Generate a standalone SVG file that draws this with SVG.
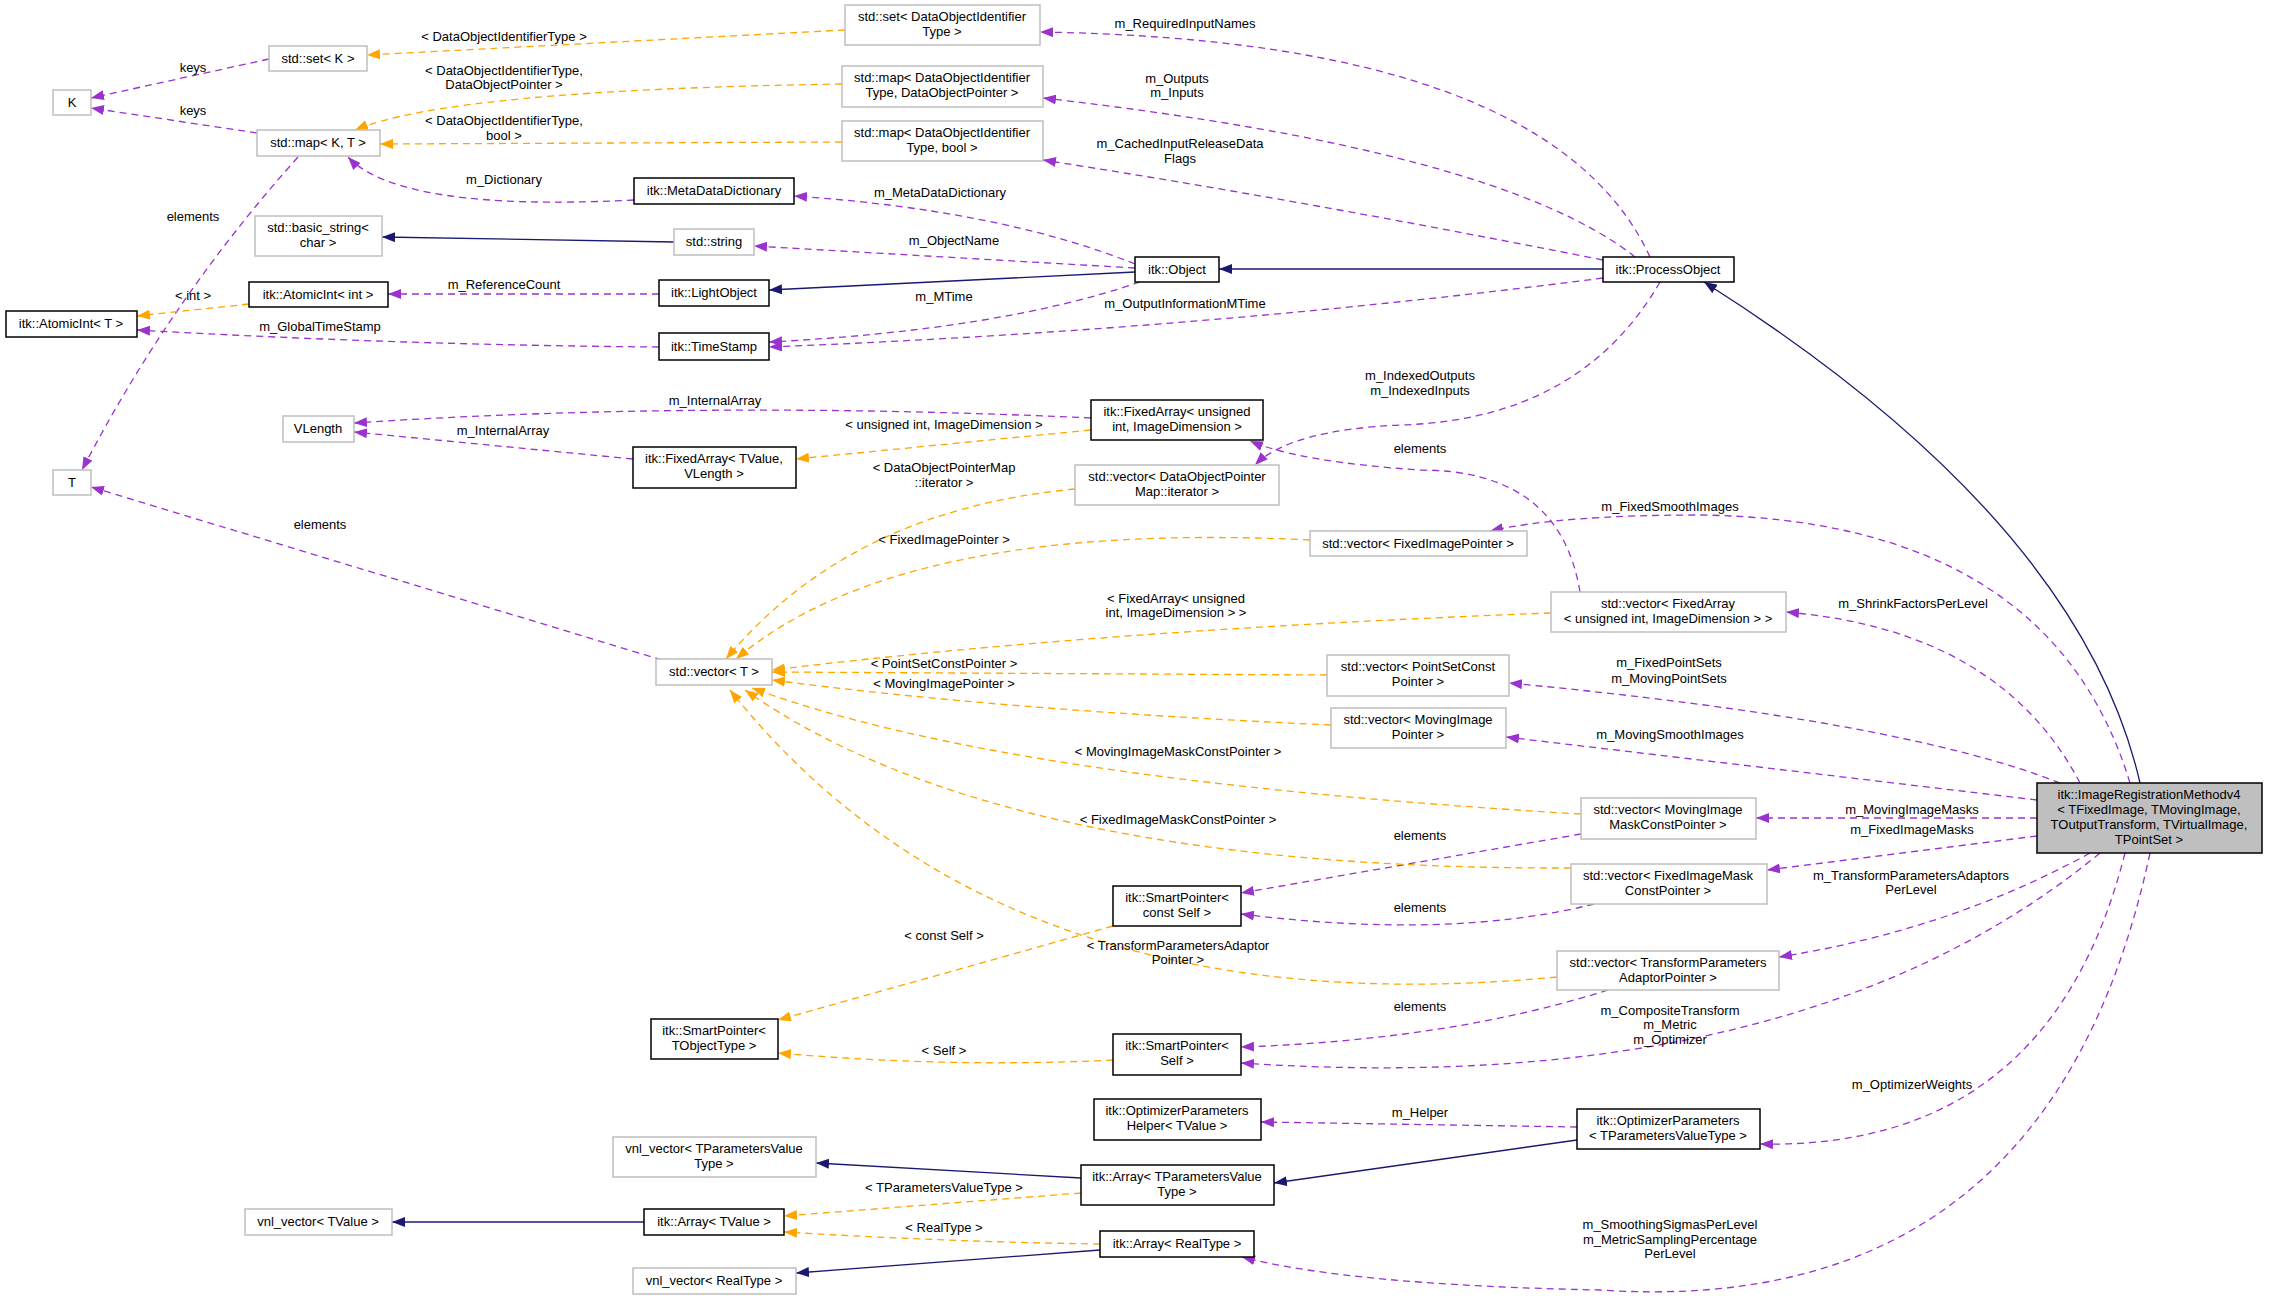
<svg xmlns="http://www.w3.org/2000/svg" width="2269" height="1300" viewBox="0 0 2269 1300">
<style>
.n rect{fill:#fff;stroke:#bfbfbf;stroke-width:1.5}
.n.d rect{stroke:#000}
.n.g rect{fill:#bfbfbf;stroke:#000}
text{font-family:"Liberation Sans",Arial,sans-serif;font-size:13px;fill:#000;text-anchor:middle}
.p{fill:none;stroke:#9a32cd;stroke-width:1.3;stroke-dasharray:7,5;marker-end:url(#mp)}
.o{fill:none;stroke:orange;stroke-width:1.3;stroke-dasharray:7,5;marker-end:url(#mo)}
.b{fill:none;stroke:midnightblue;stroke-width:1.3;marker-end:url(#mb)}
</style>
<defs>
<marker id="mp" markerUnits="userSpaceOnUse" markerWidth="13" markerHeight="10" refX="13" refY="5" orient="auto"><path d="M0,0L13,5L0,10z" fill="#9a32cd"/></marker>
<marker id="mo" markerUnits="userSpaceOnUse" markerWidth="13" markerHeight="10" refX="13" refY="5" orient="auto"><path d="M0,0L13,5L0,10z" fill="orange"/></marker>
<marker id="mb" markerUnits="userSpaceOnUse" markerWidth="13" markerHeight="10" refX="13" refY="5" orient="auto"><path d="M0,0L13,5L0,10z" fill="midnightblue"/></marker>
</defs>
<rect width="2269" height="1300" fill="#fff"/>
<g id="edges">
<path class="p" d="M269,59 L91,98"/><text x="193" y="72">keys</text>
<path class="p" d="M257,133 L91,108"/><text x="193" y="115">keys</text>
<path class="p" d="M298,157 Q170,300 82,470"/><text x="193" y="221">elements</text>
<path class="p" d="M634,200 Q400,212 348,157"/><text x="504" y="184">m_Dictionary</text>
<path class="p" d="M1135,264 Q1000,210 794,196"/><text x="940" y="197">m_MetaDataDictionary</text>
<path class="p" d="M1135,268 L754,246"/><text x="954" y="245">m_ObjectName</text>
<path class="p" d="M659,294 L388,294"/><text x="504" y="289">m_ReferenceCount</text>
<path class="p" d="M1140,282 Q1000,330 769,342"/><text x="944" y="301">m_MTime</text>
<path class="p" d="M1603,278 Q1200,330 769,347"/><text x="1185" y="308">m_OutputInformationMTime</text>
<path class="p" d="M659,347 Q400,345 137,330"/><text x="320" y="331">m_GlobalTimeStamp</text>
<path class="p" d="M1650,257 Q1550,40 1040,32"/><text x="1185" y="28">m_RequiredInputNames</text>
<path class="p" d="M1635,257 Q1500,150 1043,98"/><text x="1177" y="83">m_Outputs</text><text x="1177" y="97">m_Inputs</text>
<path class="p" d="M1603,260 Q1300,200 1043,160"/><text x="1180" y="148">m_CachedInputReleaseData</text><text x="1180" y="163">Flags</text>
<path class="p" d="M1660,282 Q1580,420 1400,425 Q1290,430 1255,465"/><text x="1420" y="380">m_IndexedOutputs</text><text x="1420" y="395">m_IndexedInputs</text>
<path class="p" d="M1580,592 Q1560,470 1420,470 Q1300,462 1250,441"/><text x="1420" y="453">elements</text>
<path class="p" d="M1091,418 Q700,400 354,423"/><text x="715" y="405">m_InternalArray</text>
<path class="p" d="M633,459 L354,432"/><text x="503" y="435">m_InternalArray</text>
<path class="p" d="M662,660 L91,487"/><text x="320" y="529">elements</text>
<path class="p" d="M2130,783 Q2050,520 1700,515 Q1560,515 1490,531"/><text x="1670" y="511">m_FixedSmoothImages</text>
<path class="p" d="M2080,783 Q2000,630 1786,612"/><text x="1913" y="608">m_ShrinkFactorsPerLevel</text>
<path class="p" d="M2060,783 Q1900,720 1509,683"/><text x="1669" y="667">m_FixedPointSets</text><text x="1669" y="683">m_MovingPointSets</text>
<path class="p" d="M2037,800 L1506,737"/><text x="1670" y="739">m_MovingSmoothImages</text>
<path class="p" d="M2037,818 L1756,818"/><text x="1912" y="814">m_MovingImageMasks</text>
<path class="p" d="M2037,836 L1767,870"/><text x="1912" y="834">m_FixedImageMasks</text>
<path class="p" d="M2090,853 Q1950,930 1779,957"/><text x="1911" y="880">m_TransformParametersAdaptors</text><text x="1911" y="894">PerLevel</text>
<path class="p" d="M2100,853 Q1800,1100 1241,1063"/><text x="1670" y="1015">m_CompositeTransform</text><text x="1670" y="1029">m_Metric</text><text x="1670" y="1044">m_Optimizer</text>
<path class="p" d="M2125,853 Q2050,1150 1760,1144"/><text x="1912" y="1089">m_OptimizerWeights</text>
<path class="p" d="M2150,853 Q2050,1320 1600,1290 Q1350,1285 1242,1257"/><text x="1670" y="1229">m_SmoothingSigmasPerLevel</text><text x="1670" y="1244">m_MetricSamplingPercentage</text><text x="1670" y="1258">PerLevel</text>
<path class="p" d="M1581,834 L1241,893"/><text x="1420" y="840">elements</text>
<path class="p" d="M1594,904 Q1450,940 1241,914"/><text x="1420" y="912">elements</text>
<path class="p" d="M1608,990 Q1450,1040 1241,1047"/><text x="1420" y="1011">elements</text>
<path class="p" d="M1577,1127 L1261,1122"/><text x="1420" y="1117">m_Helper</text>
<path class="o" d="M845,30 L367,55"/><text x="504" y="41">&lt; DataObjectIdentifierType &gt;</text>
<path class="o" d="M842,84 Q450,90 355,130"/><text x="504" y="75">&lt; DataObjectIdentifierType,</text><text x="504" y="89">DataObjectPointer &gt;</text>
<path class="o" d="M842,142 L380,144"/><text x="504" y="125">&lt; DataObjectIdentifierType,</text><text x="504" y="140">bool &gt;</text>
<path class="o" d="M249,304 L137,316"/><text x="193" y="300">&lt; int &gt;</text>
<path class="o" d="M1091,430 L796,459"/><text x="944" y="429">&lt; unsigned int, ImageDimension &gt;</text>
<path class="o" d="M1075,489 Q850,510 726,659"/><text x="944" y="472">&lt; DataObjectPointerMap</text><text x="944" y="487">::iterator &gt;</text>
<path class="o" d="M1310,540 Q900,520 736,659"/><text x="944" y="544">&lt; FixedImagePointer &gt;</text>
<path class="o" d="M1551,613 Q1100,630 772,670"/><text x="1176" y="603">&lt; FixedArray&lt; unsigned</text><text x="1176" y="617">int, ImageDimension &gt; &gt;</text>
<path class="o" d="M1327,675 L772,672"/><text x="944" y="668">&lt; PointSetConstPointer &gt;</text>
<path class="o" d="M1331,725 Q1000,710 772,680"/><text x="944" y="688">&lt; MovingImagePointer &gt;</text>
<path class="o" d="M1581,814 Q1000,780 752,688"/><text x="1178" y="756">&lt; MovingImageMaskConstPointer &gt;</text>
<path class="o" d="M1571,868 Q1000,870 745,690"/><text x="1178" y="824">&lt; FixedImageMaskConstPointer &gt;</text>
<path class="o" d="M1557,977 Q1000,1030 730,690"/><text x="1178" y="950">&lt; TransformParametersAdaptor</text><text x="1178" y="964">Pointer &gt;</text>
<path class="o" d="M1113,926 L778,1020"/><text x="944" y="940">&lt; const Self &gt;</text>
<path class="o" d="M1113,1060 Q950,1068 778,1053"/><text x="944" y="1055">&lt; Self &gt;</text>
<path class="o" d="M1081,1193 L784,1216"/><text x="944" y="1192">&lt; TParametersValueType &gt;</text>
<path class="o" d="M1100,1244 Q950,1242 784,1232"/><text x="944" y="1232">&lt; RealType &gt;</text>
<path class="b" d="M674,242 L382,237"/>
<path class="b" d="M1135,272 L769,290"/>
<path class="b" d="M1603,269 L1219,269"/>
<path class="b" d="M2140,783 Q2080,520 1704,282"/>
<path class="b" d="M1081,1178 L816,1163"/>
<path class="b" d="M644,1222 L392,1222"/>
<path class="b" d="M1100,1250 L796,1273"/>
<path class="b" d="M1577,1140 L1274,1183"/>
</g>
<g id="n1" class="n"><rect x="845" y="5" width="195" height="40"/><text x="942" y="21">std::set&lt; DataObjectIdentifier</text><text x="942" y="36">Type &gt;</text></g>
<g id="n2" class="n"><rect x="842" y="66" width="201" height="41"/><text x="942" y="82">std::map&lt; DataObjectIdentifier</text><text x="942" y="97">Type, DataObjectPointer &gt;</text></g>
<g id="n3" class="n"><rect x="842" y="121" width="201" height="40"/><text x="942" y="137">std::map&lt; DataObjectIdentifier</text><text x="942" y="152">Type, bool &gt;</text></g>
<g id="n4" class="n"><rect x="269" y="46" width="98" height="25"/><text x="318" y="63">std::set&lt; K &gt;</text></g>
<g id="n5" class="n"><rect x="53" y="90" width="38" height="25"/><text x="72" y="107">K</text></g>
<g id="n6" class="n"><rect x="257" y="130" width="123" height="26"/><text x="318" y="147">std::map&lt; K, T &gt;</text></g>
<g id="n7" class="n d"><rect x="634" y="178" width="160" height="26"/><text x="714" y="195">itk::MetaDataDictionary</text></g>
<g id="n8" class="n"><rect x="255" y="216" width="127" height="40"/><text x="318" y="232">std::basic_string&lt;</text><text x="318" y="247">char &gt;</text></g>
<g id="n9" class="n"><rect x="674" y="229" width="80" height="26"/><text x="714" y="246">std::string</text></g>
<g id="n10" class="n d"><rect x="249" y="282" width="139" height="25"/><text x="318" y="299">itk::AtomicInt&lt; int &gt;</text></g>
<g id="n11" class="n d"><rect x="659" y="280" width="110" height="26"/><text x="714" y="297">itk::LightObject</text></g>
<g id="n12" class="n d"><rect x="6" y="311" width="131" height="26"/><text x="71" y="328">itk::AtomicInt&lt; T &gt;</text></g>
<g id="n13" class="n d"><rect x="659" y="333" width="110" height="27"/><text x="714" y="351">itk::TimeStamp</text></g>
<g id="n14" class="n"><rect x="283" y="416" width="71" height="26"/><text x="318" y="433">VLength</text></g>
<g id="n15" class="n d"><rect x="633" y="447" width="163" height="41"/><text x="714" y="463">itk::FixedArray&lt; TValue,</text><text x="714" y="478">VLength &gt;</text></g>
<g id="n16" class="n"><rect x="53" y="470" width="38" height="25"/><text x="72" y="487">T</text></g>
<g id="n17" class="n d"><rect x="1091" y="400" width="172" height="40"/><text x="1177" y="416">itk::FixedArray&lt; unsigned</text><text x="1177" y="431">int, ImageDimension &gt;</text></g>
<g id="n18" class="n"><rect x="1075" y="465" width="204" height="40"/><text x="1177" y="481">std::vector&lt; DataObjectPointer</text><text x="1177" y="496">Map::iterator &gt;</text></g>
<g id="n19" class="n d"><rect x="1135" y="257" width="84" height="25"/><text x="1177" y="274">itk::Object</text></g>
<g id="n20" class="n d"><rect x="1603" y="257" width="131" height="25"/><text x="1668" y="274">itk::ProcessObject</text></g>
<g id="n21" class="n"><rect x="1310" y="531" width="217" height="25"/><text x="1418" y="548">std::vector&lt; FixedImagePointer &gt;</text></g>
<g id="n22" class="n"><rect x="1551" y="592" width="235" height="40"/><text x="1668" y="608">std::vector&lt; FixedArray</text><text x="1668" y="623">&lt; unsigned int, ImageDimension &gt; &gt;</text></g>
<g id="n23" class="n"><rect x="656" y="659" width="116" height="26"/><text x="714" y="676">std::vector&lt; T &gt;</text></g>
<g id="n24" class="n"><rect x="1327" y="655" width="182" height="41"/><text x="1418" y="671">std::vector&lt; PointSetConst</text><text x="1418" y="686">Pointer &gt;</text></g>
<g id="n25" class="n"><rect x="1331" y="708" width="175" height="40"/><text x="1418" y="724">std::vector&lt; MovingImage</text><text x="1418" y="739">Pointer &gt;</text></g>
<g id="n26" class="n g"><rect x="2037" y="783" width="225" height="70"/><text x="2149" y="799">itk::ImageRegistrationMethodv4</text><text x="2149" y="814">&lt; TFixedImage, TMovingImage,</text><text x="2149" y="829">TOutputTransform, TVirtualImage,</text><text x="2149" y="844">TPointSet &gt;</text></g>
<g id="n27" class="n"><rect x="1581" y="798" width="175" height="41"/><text x="1668" y="814">std::vector&lt; MovingImage</text><text x="1668" y="829">MaskConstPointer &gt;</text></g>
<g id="n28" class="n"><rect x="1571" y="864" width="196" height="40"/><text x="1668" y="880">std::vector&lt; FixedImageMask</text><text x="1668" y="895">ConstPointer &gt;</text></g>
<g id="n29" class="n d"><rect x="1113" y="886" width="128" height="40"/><text x="1177" y="902">itk::SmartPointer&lt;</text><text x="1177" y="917">const Self &gt;</text></g>
<g id="n30" class="n"><rect x="1557" y="951" width="222" height="39"/><text x="1668" y="967">std::vector&lt; TransformParameters</text><text x="1668" y="982">AdaptorPointer &gt;</text></g>
<g id="n31" class="n d"><rect x="651" y="1019" width="127" height="40"/><text x="714" y="1035">itk::SmartPointer&lt;</text><text x="714" y="1050">TObjectType &gt;</text></g>
<g id="n32" class="n d"><rect x="1113" y="1034" width="128" height="41"/><text x="1177" y="1050">itk::SmartPointer&lt;</text><text x="1177" y="1065">Self &gt;</text></g>
<g id="n33" class="n d"><rect x="1094" y="1099" width="167" height="41"/><text x="1177" y="1115">itk::OptimizerParameters</text><text x="1177" y="1130">Helper&lt; TValue &gt;</text></g>
<g id="n34" class="n d"><rect x="1577" y="1109" width="183" height="40"/><text x="1668" y="1125">itk::OptimizerParameters</text><text x="1668" y="1140">&lt; TParametersValueType &gt;</text></g>
<g id="n35" class="n"><rect x="613" y="1137" width="203" height="40"/><text x="714" y="1153">vnl_vector&lt; TParametersValue</text><text x="714" y="1168">Type &gt;</text></g>
<g id="n36" class="n d"><rect x="1081" y="1165" width="193" height="40"/><text x="1177" y="1181">itk::Array&lt; TParametersValue</text><text x="1177" y="1196">Type &gt;</text></g>
<g id="n37" class="n"><rect x="245" y="1209" width="147" height="26"/><text x="318" y="1226">vnl_vector&lt; TValue &gt;</text></g>
<g id="n38" class="n d"><rect x="644" y="1209" width="140" height="26"/><text x="714" y="1226">itk::Array&lt; TValue &gt;</text></g>
<g id="n39" class="n d"><rect x="1100" y="1231" width="154" height="26"/><text x="1177" y="1248">itk::Array&lt; RealType &gt;</text></g>
<g id="n40" class="n"><rect x="633" y="1268" width="163" height="26"/><text x="714" y="1285">vnl_vector&lt; RealType &gt;</text></g>
</svg>
